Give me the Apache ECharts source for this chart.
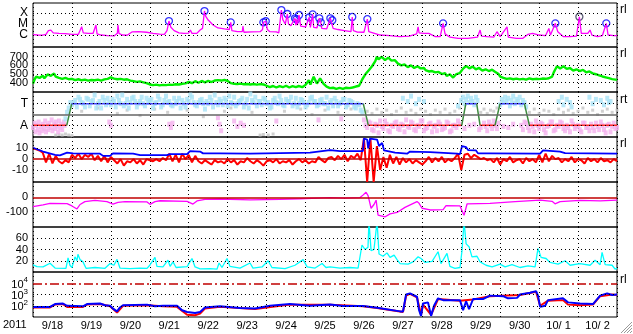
<!DOCTYPE html>
<html><head><meta charset="utf-8">
<script src="https://cdn.jsdelivr.net/npm/echarts@6/dist/echarts.min.js"></script>
<style>html,body{margin:0;padding:0;background:#fff}#c{width:633px;height:334px}</style>
</head><body><div id="c"></div>
<script>
// ---------- DATA (time in hours since 2011-09-18 00UT) ----------
const dayLabels = ['9/18','9/19','9/20','9/21','9/22','9/23','9/24','9/25','9/26','9/27','9/28','9/29','9/30','10/ 1','10/ 2'];
const dayMid = [12,36,60,84,108,132,156,180,204,228,252,276,300,324,348];

// X-ray flux, log10 (W/m2)
const xray = [[0,-5.97],[3,-6.0],[6,-6.02],[8,-5.95],[9.5,-5.6],[11,-5.55],[12.5,-5.8],[16,-5.85],[20,-5.88],[24,-5.94],[28,-5.93],[30,-5.25],[31,-5.8],[34,-5.85],[37,-5.86],[38.8,-5.09],[39.5,-5.9],[42,-6.0],[46,-6.05],[50,-6.08],[52,-5.85],[52.4,-5.1],[53,-5.85],[55,-6.0],[58,-6.02],[61,-5.72],[65,-5.7],[70,-5.75],[74,-5.85],[78,-5.92],[81,-5.94],[82.6,-5.6],[83.8,-4.73],[85,-5.3],[87,-5.6],[90,-5.8],[93,-5.85],[96,-5.82],[97,-5.55],[98,-5.85],[101,-5.85],[103,-5.55],[104.5,-5.4],[105.7,-3.82],[106.5,-4.3],[108,-4.64],[111,-5.09],[114,-5.36],[118,-5.45],[121,-5.5],[121.9,-4.85],[122.6,-5.6],[126,-5.7],[129,-5.7],[129.4,-5.2],[130,-5.75],[135,-5.72],[140,-5.7],[141.5,-5.5],[142,-4.85],[143.5,-4.75],[144.5,-5.5],[146,-5.7],[150,-5.72],[151.5,-5.8],[153.1,-3.73],[154,-4.6],[155.5,-5.0],[156.8,-4.09],[157.5,-5.0],[159,-5.15],[161.5,-4.48],[162,-5.1],[162.4,-4.57],[163,-5.1],[164,-4.18],[165,-5.2],[168,-5.27],[170.3,-4.39],[171,-5.3],[172.4,-4.12],[173,-5.3],[175,-5.36],[176.5,-4.48],[177.4,-4.85],[178,-5.4],[181,-5.45],[183.3,-4.48],[184.5,-4.66],[185,-5.4],[188,-5.5],[192,-5.6],[196,-5.7],[196.8,-4.36],[197.5,-5.6],[200,-5.73],[204,-5.75],[206.1,-4.55],[207,-5.7],[210,-5.82],[214,-6.0],[220,-6.05],[226,-6.15],[232,-6.1],[236.5,-5.9],[237.4,-5.25],[238,-5.8],[241,-5.85],[244,-5.85],[245,-5.95],[248,-6.15],[251,-6.15],[252.8,-4.94],[254,-5.9],[257,-6.2],[262,-6.3],[268,-6.3],[274,-6.2],[275.6,-5.55],[276.5,-6.1],[280,-6.15],[284,-6.2],[286,-5.7],[288,-6.15],[292.2,-5.25],[293,-6.2],[298,-6.3],[302,-6.3],[305,-5.95],[308,-5.85],[312,-6.0],[316,-6.05],[318,-5.4],[319,-6.0],[322,-4.94],[323.5,-5.7],[327,-6.15],[331,-6.15],[335,-6.1],[336.8,-4.34],[338,-5.85],[342,-5.85],[343.4,-5.55],[344.5,-6.0],[348,-6.15],[351,-6.05],[353.4,-4.94],[354.5,-6.0],[358,-6.05],[360,-6.05]];
const flares = [[83.8,-4.73],[105.7,-3.82],[121.9,-4.85],[142,-4.85],[143.5,-4.75],[153.1,-3.73],[156.8,-4.09],[161.5,-4.48],[162.4,-4.57],[164,-4.18],[170.3,-4.39],[172.4,-4.12],[176.5,-4.48],[177.4,-4.85],[183.3,-4.48],[184.5,-4.66],[196.8,-4.36],[206.1,-4.55],[252.8,-4.94],[322,-4.94],[353.4,-4.94]];
const flaresDark = [[336.8,-4.34]];
const xrayTicks = [-6,-5,-4], xrayNames = ['C','M','X'];

// Solar wind speed (km/s), 1-hour steps
const speedStep = 1;
const speed = [390,440,470,448,455,472,480,452,465,495,510,480,490,505,470,452,455,468,445,438,
455,442,440,452,445,432,430,445,440,425,428,440,435,422,425,438,432,422,428,440,
435,420,425,440,438,428,445,455,462,445,448,455,440,432,445,450,435,448,440,430,
425,432,418,425,410,420,415,402,405,398,395,388,380,372,372,380,378,366,370,378,
375,368,372,380,378,370,375,384,382,374,380,390,388,380,392,400,410,392,395,412,
418,398,400,415,420,402,405,420,422,405,408,425,425,435,430,420,425,438,432,415,
420,400,395,385,388,392,385,378,390,382,382,390,385,376,380,388,385,378,378,386,
384,375,380,360,365,345,350,365,362,342,345,365,360,345,348,368,365,342,345,362,
360,345,350,365,362,345,348,360,375,400,430,380,395,470,460,390,400,450,440,390,
370,355,345,338,335,342,340,330,332,340,338,330,335,342,345,338,352,345,348,356,
355,365,400,440,470,500,520,545,560,590,610,650,700,670,680,700,690,660,670,690,
675,655,650,660,640,620,630,600,590,610,600,580,585,600,590,570,575,590,580,565,
560,570,545,525,530,540,535,515,520,530,525,505,500,515,510,480,470,495,500,460,
480,500,495,510,520,560,575,595,590,565,570,585,580,555,560,570,555,540,545,555,
550,535,540,550,545,525,530,500,470,455,455,440,445,455,450,435,440,452,448,432,
438,450,445,430,435,455,450,432,440,452,445,435,442,455,448,438,445,458,452,445,
470,520,555,590,585,565,575,590,580,560,560,570,555,540,545,555,550,535,540,548,
535,520,525,530,515,508,505,498,495,485,480,472,470,462,460,452,448,442,440,436,
432];
const speedTicks = [400,500,600,700];

// Sector polarity (T=+1, A=-1)
const polarity = [[0,-1],[20.8,-1],[23.9,1],[203.6,1],[206.7,-1],[264.3,-1],[266.8,1],[273.5,1],[275.6,-1],[284.8,-1],[287.9,1],[302.9,1],[306,-1],[360,-1]];
const polTicks = [-1,1], polNames = ['A','T'];
const blueA = [0.9,1.3,1.6,1.1,0.7,1.4,1.2,1.8,1.0,0.6,1.3,1.5,0.9,1.2,1.7,1.0,0.8,1.4,1.1,1.6,0.7,1.2,1.0,1.5,1.3,0.6,1.1,1.4,0.9,1.7,1.2,0.8,1.0,1.5,1.3,0.7,1.2,1.6,0.9,1.1,1.4,0.5,1.0,1.3,1.8,0.9,1.2,1.5,0.8,1.1,1.6,1.0,1.3,0.7,1.4,1.9,1.1,0.8,1.2,1.5,1.0,0.6,1.3,1.1,1.7,0.9,1.4,1.2,0.8,1.5,1.0,1.3,0.7,1.1,1.6,1.2,0.9,1.4,1.0,0.6,1.3,1.5,0.8,1.1,1.4,0.9,1.2,0.7,1.0,0.4];
const blueB = [1.1,0.7,1.4,1.0,1.5,0.8,1.3,0.6,1.2,1.6,0.9,1.1,1.4,0.7,1.3,1.8,1.0,0.6,1.5,1.2,1.0,1.6,0.8,1.1,1.4,1.0,1.7,0.7,1.3,1.1,0.9,1.5,1.2,0.6,1.0,1.4,1.8,1.1,0.8,1.3,1.0,1.2,1.6,0.7,1.1,1.4,0.9,1.3,1.7,1.0,0.8,1.2,1.5,1.0,0.6,1.3,1.6,1.2,0.9,1.4,1.1,0.7,1.5,1.0,1.3,0.8,1.2,1.6,1.0,0.7,1.4,1.1,0.9,1.5,1.2,0.8,1.3,1.0,1.6,1.1,0.8,1.2,1.0,1.4,0.7,1.3,1.1,0.6,0.9,0.2];
const blueStart = 24;
const blueX = [[20,-0.4],[21,0.2],[22,0.6],[23,1.1],[228,1.5],[231,1.2],[233,1.7],[236,1.0],[238,1.4],[241,1.2],[262,0.8],[264,1.3],[265,1.6],[266,1.0],[267,1.4],[268,1.7],[269,1.1],[270,1.5],[271,1.2],[272,0.9],[273,1.6],[274,1.3],[288,0.9],[289,1.4],[290,1.1],[291,1.6],[292,1.2],[293,1.5],[294,0.8],[295,1.3],[296,1.7],[297,1.0],[298,1.4],[299,1.2],[300,1.6],[301,0.9],[302,1.3],[303,1.1],[304,0.7],[324,1.2],[326,1.6],[327,0.9],[329,1.4],[331,1.1],[332,0.7],[343,1.6],[345,1.0],[347,1.4],[350,1.3],[352,0.9],[354,1.5],[355,1.1],[356,1.2]];
const pinkA = [-0.5,-1.2,-0.8,-1.5,-1.0,-0.6,-1.3,-0.9,-1.6,-1.1,-0.7,-1.4,-1.0,-0.5,-1.2,-0.8,-1.5,-1.1,-0.6,-1.3,-0.9,-1.6,-1.0,-0.7,-1.4,-1.2,-0.8,-1.5,-1.0,-0.6,null,-1.3,null,null,-0.9,null,-1.2,-0.8,-1.5,-1.0,-0.6,-1.3,null,-1.1,null,null,-0.9,null,null,-1.4,-0.8,-1.5,-1.1,-0.6,-1.3,-0.9,-1.7,-1.0,-0.7,-1.4,-1.1,-0.8,-1.5,-1.2,-0.6,-1.3,-1.0,-1.6,-0.8,-1.2,-0.9,-1.5,-1.1,-0.7,-1.4,-1.0,-1.6,-0.8,-1.2];
const pinkB = [-1.0,-0.7,-1.4,-0.9,-1.7,-1.1,-0.6,-1.5,-1.0,-0.8,-1.3,-0.9,-1.6,-1.1,-0.7,-1.4,-1.0,-0.6,-1.5,-1.2,-0.8,-1.1,-1.5,-0.9,-1.3,-0.7,-1.6,-1.0,-1.2,-0.9,null,null,-1.0,null,null,-1.4,null,-1.1,-0.7,-1.3,-1.0,-0.8,null,null,-1.2,null,null,null,-1.0,-0.7,-1.2,-0.9,-1.6,-1.0,-0.8,-1.4,-1.1,-0.7,-1.5,-1.0,-0.7,-1.3,-1.0,-1.6,-0.9,-1.1,-1.4,-0.8,-1.2,-1.5,-1.2,-0.8,-1.4,-1.0,-1.7,-0.9,-1.1,-1.3,-0.7];
const pinkStart = 204;
const pinkX = [[0,-1.2],[1,-0.8],[1.5,-1.6],[2,-1.0],[3,-1.4],[3.5,-0.7],[4,-1.7],[5,-1.1],[5.5,-1.5],[6,-0.9],[7,-1.3],[7.5,-0.6],[8,-1.6],[9,-1.0],[9.5,-1.4],[10,-0.8],[11,-1.2],[11.5,-0.5],[12,-1.5],[13,-0.9],[13.5,-1.3],[14,-0.7],[15,-1.1],[15.5,-1.6],[16,-0.6],[17,-1.2],[17.5,-0.9],[18,-1.4],[19,-0.7],[19.5,-1.0],[47,-0.7],[48,-1.0],[84,-0.9],[85,-1.2],[86,-0.8],[114,-0.3],[115,-0.9],[116,-1.5],[124,-0.6],[126,-1.1],[128,-0.8],[130,-1.0],[150,-0.6],[176,-0.5],[190,-0.4]];
const greyX = [[14,-1.9],[16,-1.85],[18,-1.9],[20,-1.8],[22,-1.9],[24,-1.95],[30,0.3],[40,0.6],[52,0.1],[58,0.4],[66,-0.1],[75,0.5],[83,0.2],[95,0.4],[105,-0.2],[118,0.3],[122,0.6],[135,0.2],[140,-1.9],[142,-1.85],[145,-1.9],[148,-1.8],[155,0.3],[165,0.5],[172,0.0],[180,0.4],[188,0.2],[196,0.5],[206,0.3],[209,0.1],[212,0.5],[215,0.2],[218,0.4],[221,0.0],[224,0.3],[227,0.6],[230,0.2],[233,0.4],[236,0.1],[239,0.5],[242,0.3],[245,0.0],[248,0.4],[251,0.2],[254,0.5],[257,0.1],[260,0.3],[263,0.6],[276,0.2],[278,0.5],[280,0.1],[282,0.4],[284,0.3],[286,0.6],[306,0.2],[309,0.5],[312,0.1],[315,0.4],[318,0.3],[321,0.0],[324,0.5],[327,0.2],[330,0.4],[333,0.1],[336,0.3],[339,0.6],[342,0.2],[345,0.4],[348,0.0],[351,0.3],[354,0.5],[357,0.2],[360,0.4]];

// IMF Bt (blue) and Bz (red), nT
const bt = [[0,10.5],[6.2,7],[13.6,4],[16.6,3.5],[21,6],[24.7,5.3],[41.3,5],[43.2,3],[47.5,3],[49.3,5.3],[61.7,5],[66,3.7],[82.6,3.7],[84.5,4.6],[95,4.6],[96.8,7.4],[103,7],[104.8,5.3],[115.3,5.3],[133.8,5],[152.3,5.5],[170.8,6],[183.1,8.3],[189.3,7.4],[203.4,7.5],[204,19],[206,18],[206.6,10],[207.8,19],[212.1,18],[213.3,12],[215.2,15],[216.4,8],[223.2,6],[230.6,5],[232.4,7],[244.8,6.5],[246,5.3],[261.4,5],[263.2,4.6],[264.5,12],[267,11],[268.2,8.3],[273.1,8],[274.3,5.3],[281.7,5.3],[312.6,5],[314.4,8],[324.9,7],[328,5.5],[360,5]];
const bzStep = 2;
const bz = [10,9,8,6,-3,5,-4,3,-2,-4,-1,-3,4,1,5,0,4,2,5,-1,3,-2,3,-3,2,-1,-4,0,-6,-2,-3,0,-4,-1,-5,0,-1,-2,0,-2,1,-1,5,-2,4,-3,5,0,4,-3,3,-2,-4,-1,-3,-5,-1,-3,-2,-4,0,-3,-1,-5,-2,-3,1,-2,-4,-1,-3,-6,-2,-1,-3,0,-4,-2,-3,-1,-5,-2,0,-3,-1,-4,-2,-3,2,-1,-3,1,2,-1,3,0,4,-2,3,1,5,-1,19,-21,19,-21,12,-10,2,-8,4,-4,2,-5,1,-3,0,-4,-1,-3,-5,-2,2,-3,1,-2,2,-3,0,-2,1,5,-10,4,5,1,4,2,0,1,-1,0,-3,1,-5,0,-2,2,-3,-1,0,-4,1,-2,0,-3,4,-3,5,-2,3,0,1,-3,0,-2,2,-3,0,-1,-4,1,-2,0,-3,1,-2,-1,-3,0,-2];
const bTicks = [-10,0,10];

// Dst index (nT)
const dst = [[0,-65],[6.2,-53],[10.5,-42],[21,-44],[24,-60],[27.1,-81],[29,-50],[32,-30],[38.2,-22],[45.6,-30],[49.3,-47],[52.4,-35],[56.7,-30],[70.3,-32],[72.1,-49],[75.2,-30],[78.3,-24],[95,-28],[98.6,-47],[101.1,-25],[106,-15],[115.3,-12],[133.8,-18],[152.3,-14],[164.6,-10],[183.1,-3],[192.3,-6],[201.6,-2],[203.4,15],[205.3,35],[206.6,10],[208.4,-76],[210.2,-50],[211.5,-20],[212.7,-123],[217.1,-135],[220.1,-115],[224.4,-105],[229.3,-70],[236.7,-30],[238,-42],[239.8,-76],[244.8,-88],[252.8,-85],[254.6,-58],[263.2,-60],[265.7,-125],[267.6,-45],[281.7,-42],[297.2,-30],[312.6,-20],[320,-28],[321.8,-45],[324.9,-30],[337.2,-22],[349.6,-25],[360,-20]];
const dstTicks = [-100,0];

// cyan index
const cyan = [[0,12.5],[2.5,9.5],[6.2,9],[10.5,15.5],[13.6,7],[20.3,6.6],[21.6,25],[22.8,12],[24,7.7],[25.9,27],[27.1,20],[27.7,31.5],[29,22],[30.8,18],[32.7,6.5],[38.2,8],[44.4,6.5],[47.5,15],[49.9,12],[51.8,22.5],[53.6,7],[59.8,6],[66,7],[70.3,6.5],[72.1,12.5],[75.2,26],[76.4,10],[80.1,9],[83.2,21],[84.5,10],[86.3,18],[88.2,8],[95,9.5],[98,24],[99.9,9],[103,5.4],[109.1,6],[113.4,5],[114.7,16],[116.5,8],[119.6,24],[121.4,10],[127.6,7],[133.8,16],[135.6,7],[141.2,9],[144.9,20],[147.3,8],[155.4,6],[161.5,12],[166.5,22],[169,9],[173.9,7],[178.2,15],[180.6,8],[183.1,9],[189.3,7],[195.4,8],[200.4,7],[202.8,48],[204.7,40],[206.5,44],[207.1,90],[208.4,38],[210.2,40],[212.1,90],[213.3,32],[215.8,28],[218.2,34],[220.1,26],[222.6,30],[224.4,22],[226.3,15],[231.2,14],[234.3,18],[237.4,27],[239.2,24],[241.7,17],[246,19],[249.7,36],[251.5,15],[255.2,33],[257,10],[260.1,6.6],[263.2,8],[264.5,39],[265.7,90],[267,50],[268.8,45],[270.6,27],[273.7,28],[275.6,18],[279.3,12],[283,9],[287.9,14],[291,9],[295.3,13],[300.2,8],[305.2,11],[309.5,9],[311.3,42],[313.2,26],[316.3,24],[318.7,17],[323.7,14],[328,20],[331.1,12],[337.2,15],[343.4,12],[346.5,21],[349.6,13],[350.8,35],[352.7,13],[357,12],[358.8,5],[360,7]];
const cyanTicks = [20,40,60];

// Electron flux, log10
const eBlue = [[0,1.9],[10.5,1.9],[13.6,2.15],[18.5,2.2],[21,2.0],[30.8,1.95],[33.3,2.15],[41.3,2.2],[44.4,2.05],[47.5,2.0],[49.3,1.75],[51.8,1.5],[53.6,1.85],[55.5,2.05],[70.3,2.1],[75.2,1.95],[80.1,2.0],[88.8,2.0],[91.9,1.6],[95,1.45],[99.9,1.35],[103,1.45],[106,1.85],[115.3,1.95],[127.6,1.8],[136.9,1.75],[146.1,2.0],[158.4,2.15],[170.8,2.0],[183.1,2.12],[191.1,1.97],[203.4,1.97],[212.1,1.82],[226.3,1.5],[228.1,1.5],[230,3.0],[232.4,3.1],[236.7,2.8],[238,1.6],[239.2,1.1],[240.4,2.2],[243.5,2.3],[245.4,1.1],[247.2,2.0],[249.7,2.66],[252.8,2.5],[263.2,2.5],[265.1,1.6],[267,2.4],[268.8,1.7],[271.3,2.6],[277.4,2.6],[281.7,2.9],[289.8,2.85],[292.8,2.66],[298.4,2.7],[300.2,3.0],[306.4,3.15],[310.1,3.3],[311.3,2.9],[312.6,1.9],[315.7,2.0],[317.5,2.5],[326.7,2.66],[329.8,2.3],[337.2,2.2],[345.2,2.15],[349.6,2.9],[353.9,3.1],[357,2.95],[360,3.0]];
const eRed = [[0,1.85],[10.5,1.85],[13.6,2.1],[18.5,2.15],[21,1.9],[30.8,1.9],[33.3,2.1],[41.3,2.15],[47.5,1.95],[51.8,1.4],[55.5,2.0],[70.3,2.05],[80.1,1.95],[88.8,1.9],[95,1.2],[99.9,1.15],[103,1.3],[106,1.75],[115.3,1.9],[136.9,1.7],[158.4,2.1],[183.1,2.1],[203.4,1.95],[212.1,1.8],[228.1,1.45],[230,2.9],[232.4,3.05],[236.7,2.75],[239.2,1.2],[240.4,2.1],[245.4,1.2],[249.7,2.6],[263.2,2.45],[271.3,2.55],[281.7,2.85],[300.2,2.95],[310.1,3.25],[312.6,2.0],[317.5,2.45],[326.7,2.5],[329.8,2.1],[337.2,2.05],[345.2,2.1],[349.6,2.85],[357,3.0],[360,2.95]];
const eTicks = [2,3,4];
const eThreshold = 4;

// ---------- CHART ----------
const FONT = 'Liberation Sans, Arial, sans-serif';
const tops = [3,47,92,137,182,227,272];
const hts = [44,45,45,45,45,45,45];
const yRanges = [[-7.09,-3.09],[293,812],[-2.08,2.08],[-21.1,20.4],[-206,106],[0,80],[1,5]];
const yLabels = [
  {vals: xrayTicks, fmt: v => xrayNames[xrayTicks.indexOf(v)], size: 12},
  {vals: speedTicks, fmt: v => String(v), size: 11},
  {vals: polTicks, fmt: v => polNames[polTicks.indexOf(v)], size: 12},
  {vals: bTicks, fmt: v => String(v), size: 11},
  {vals: dstTicks, fmt: v => String(v), size: 11},
  {vals: cyanTicks, fmt: v => String(v), size: 11},
  {vals: eTicks, fmt: v => '{b|10}{s|' + v + '}', size: 11}
];
const DOT = {color:'#000', type:[1,3], width:1};

const grid = tops.map((t,i) => ({left:33, right:16, top:t, height:hts[i], show:true, borderColor:'#000', borderWidth:1, outerBoundsMode:'none'}));
const xAxis = tops.map((t,i) => ({
  type:'value', gridIndex:i, min:0, max:360, interval:24, position:'bottom',
  axisLine:{show:false}, axisTick:{show:false},
  splitLine:{show:true, lineStyle:DOT},
  axisLabel: i === 6 ? {show:true, hideOverlap:false, customValues:dayMid, formatter: v => dayLabels[dayMid.indexOf(v)], color:'#000', fontSize:11, fontFamily:FONT, margin:3} : {show:false}
}));
// one y axis per tick label (avoids automatic overlap hiding); the first of each panel carries the data
const yAxis = [];
const yBase = [];
tops.forEach((t,i) => {
  yBase.push(yAxis.length);
  yLabels[i].vals.forEach((v, j) => {
    yAxis.push({
      type:'value', gridIndex:i, position:'left', offset:0, min:yRanges[i][0], max:yRanges[i][1],
      axisLine:{show:false}, axisTick:{show:false}, splitLine:{show:false},
      axisLabel:{show:true, hideOverlap:false, customValues:[v], formatter:yLabels[i].fmt, color:'#000', fontSize:yLabels[i].size, fontFamily:FONT, margin:5,
        rich:{b:{fontSize:11, fontFamily:FONT, lineHeight:14, verticalAlign:'bottom', color:'#000'}, s:{fontSize:8, fontFamily:FONT, lineHeight:14, verticalAlign:'top', color:'#000'}}}
    });
  });
});

function hLines(gi, vals, style){
  return {type:'line', xAxisIndex:gi, yAxisIndex:yBase[gi], data:[], silent:true,
    markLine:{silent:true, animation:false, symbol:['none','none'], label:{show:false}, emphasis:{disabled:true}, lineStyle:style, data: vals.map(v => ({yAxis:v}))}};
}
function line(gi, data, color, width){
  return {type:'line', xAxisIndex:gi, yAxisIndex:yBase[gi], data:data, showSymbol:false, symbol:'none', silent:true,
    lineStyle:{color:color, width:width}, emphasis:{disabled:true}};
}
function dots(gi, data, color, size){
  return {type:'scatter', xAxisIndex:gi, yAxisIndex:yBase[gi], data:data, symbol:'rect', symbolSize:size, silent:true,
    itemStyle:{color:color}, emphasis:{disabled:true}};
}
function rings(gi, data, color){
  return {type:'scatter', xAxisIndex:gi, yAxisIndex:yBase[gi], data:data, symbol:'circle', symbolSize:7, silent:true,
    itemStyle:{color:'rgba(0,0,0,0)', borderColor:color, borderWidth:1.3}, emphasis:{disabled:true}};
}
const series = [];
// Panel 1: X-ray
series.push(hLines(0, xrayTicks, DOT));
series.push(line(0, xray, '#ff00ff', 1.3));
series.push(rings(0, flares, '#0000ff'));
series.push(rings(0, flaresDark, '#333355'));
// Panel 2: speed
series.push(hLines(1, speedTicks, DOT));
series.push(line(1, speed.map((v,k) => [k*speedStep, v]), '#00f000', 2.4));
// Panel 3: polarity
series.push(hLines(2, polTicks, DOT));
series.push(dots(2, greyX, '#c4c4c4', [3,3]));
series.push(dots(2, pinkX.concat(pinkA.map((v,k)=>[pinkStart+2*k, v]), pinkB.map((v,k)=>[pinkStart+1+2*k, v])).filter(p=>p[1]!==null), '#f4b0ee', [4,5]));
series.push(dots(2, blueX.concat(blueA.map((v,k)=>[blueStart+2*k, v]), blueB.map((v,k)=>[blueStart+1+2*k, v])), '#a8e2f6', [4,5]));
series.push(hLines(2, [0], {color:'#666', type:'solid', width:1.5}));
for (let i = 0; i < polarity.length - 1; i++) {
  const p = polarity[i], q = polarity[i+1];
  const col = p[1] !== q[1] ? '#3c8a3c' : (p[1] > 0 ? '#4646ff' : '#ff2a2a');
  series.push(line(2, [p, q], col, 1.5));
}
// Panel 4: IMF
series.push(hLines(3, [-10,10], DOT));
series.push(line(3, bz.map((v,k) => [k*bzStep, v]), '#ff0000', 2));
series.push(line(3, bt, '#0000ff', 1.8));
series.push(hLines(3, [0], {color:'#c00000', type:'solid', width:1.5}));
// Panel 5: Dst
series.push(hLines(4, [-100], DOT));
series.push(line(4, dst, '#ff00ff', 1.3));
series.push(hLines(4, [0], {color:'#c00000', type:'solid', width:1.5}));
// Panel 6: cyan
series.push(hLines(5, cyanTicks, DOT));
series.push(line(5, cyan, '#00ffff', 1.3));
// Panel 7: electrons
series.push(hLines(6, [2,3], DOT));
series.push(hLines(6, [eThreshold], {color:'#c00000', type:[9,3,2,3], width:1.5}));
series.push(line(6, eRed, '#ff0000', 2));
series.push(line(6, eBlue, '#0000ff', 2));

const rlText = (y, t) => ({type:'text', left:620, top:y, silent:true, style:{text:t, fill:'#000', font:'12px ' + FONT}});
const graphic = [
  rlText(tops[0]+1, 'rl'), rlText(tops[1]+1, 'rl'), rlText(tops[2]+2, 'rt'), rlText(tops[3]+1, 'rl'), rlText(tops[6]+2, 'rl'),
  {type:'text', left:3, top:319, silent:true, style:{text:'2011', fill:'#000', font:'11px ' + FONT}},
  {type:'line', silent:true, shape:{x1:621,y1:333,x2:632,y2:322}, style:{stroke:'#999', lineWidth:1}},
  {type:'line', silent:true, shape:{x1:624,y1:333,x2:632,y2:325}, style:{stroke:'#999', lineWidth:1}},
  {type:'line', silent:true, shape:{x1:627,y1:333,x2:632,y2:328}, style:{stroke:'#999', lineWidth:1}},
  {type:'line', silent:true, shape:{x1:630,y1:333,x2:632,y2:331}, style:{stroke:'#999', lineWidth:1}}
];

const chart = echarts.init(document.getElementById('c'), null, {renderer:'canvas', width:633, height:334});
chart.setOption({animation:false, backgroundColor:'#fff', grid, xAxis, yAxis, series, graphic, tooltip:{show:false}});
</script></body></html>
